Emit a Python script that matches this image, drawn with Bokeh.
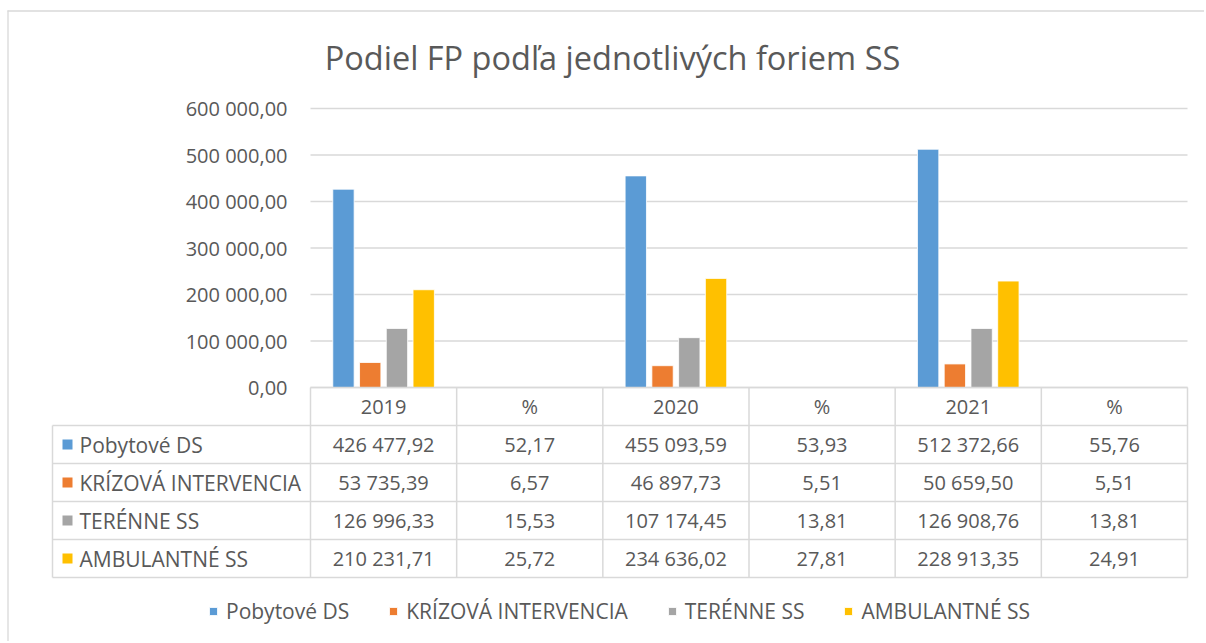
from bokeh.plotting import figure
from bokeh.models import Range1d, Legend, LegendItem, ColumnDataSource
from bokeh.core.properties import value
from bokeh.embed import file_html
from bokeh.resources import INLINE

# ---------------- data ----------------
categories = ["2019", "%", "2020", "%", "2021", "%"]
series_names = ["Pobytové DS", "KRÍZOVÁ INTERVENCIA", "TERÉNNE SS", "AMBULANTNÉ SS"]
pobytove_ds = [426477.92, 52.17, 455093.59, 53.93, 512372.66, 55.76]
krizova_intervencia = [53735.39, 6.57, 46897.73, 5.51, 50659.50, 5.51]
terenne_ss = [126996.33, 15.53, 107174.45, 13.81, 126908.76, 13.81]
ambulantne_ss = [210231.71, 25.72, 234636.02, 27.81, 228913.35, 24.91]
y_ticks = [0, 100000, 200000, 300000, 400000, 500000, 600000]
y_tick_labels = ["0,00", "100 000,00", "200 000,00", "300 000,00",
                 "400 000,00", "500 000,00", "600 000,00"]
title_text = "Podiel FP podľa jednotlivých foriem SS"

series_values = [pobytove_ds, krizova_intervencia, terenne_ss, ambulantne_ss]
colors = ["#5B9BD5", "#ED7D31", "#A5A5A5", "#FFC000"]

FONT = value("Open Sans")
TXT = "#595959"
GRID = "#D9D9D9"


def fmt(v):
    return f"{v:,.2f}".replace(",", " ").replace(".", ",")


W, H = 1204, 641
# layout (figure pixels)
x0_px = 310                 # left of plot area
x1_px = 1187                # right of plot area
col_px = (x1_px - x0_px) / 6.0
zero_px = 387               # y of value 0 (from top)
top_px = 108                # y of 600 000 (from top)
vscale = (zero_px - top_px) / 600000.0

p = figure(width=W, height=H, output_backend="svg", toolbar_location=None,
           x_range=Range1d(-x0_px / col_px, (W - x0_px) / col_px),
           y_range=Range1d(-(H - zero_px) / vscale, 600000 + top_px / vscale),
           min_border=0, x_axis_location=None, y_axis_location=None)
p.grid.visible = False
p.outline_line_color = None
p.background_fill_color = "white"
p.border_fill_color = "white"
p.extra_x_ranges = {"px": Range1d(0, W)}
p.extra_y_ranges = {"px": Range1d(H, 0)}

# chart border
p.segment(x0=[7.5, 7], y0=[10, 10.5], x1=[7.5, W], y1=[H, 10.5], line_color=GRID,
          line_width=1.3, x_range_name="px", y_range_name="px")

# title
p.text(x=[612], y=[57], text=[title_text], x_range_name="px", y_range_name="px",
       text_font=FONT, text_font_size="32.5px", text_color=TXT,
       text_align="center", text_baseline="middle")

# gridlines
p.segment(x0=0, x1=6, y0=y_ticks, y1=y_ticks, line_color=GRID, line_width=1.3)

# y tick labels
p.text(x=[287] * len(y_ticks), y=y_ticks, text=y_tick_labels, x_range_name="px",
       text_font=FONT, text_font_size="20px", text_color=TXT,
       text_align="right", text_baseline="middle")

# bars
pitch = 0.183
bar_w = 0.146
renderers = []
for j, (vals, c) in enumerate(zip(series_values, colors)):
    off = (j - 1.5) * pitch
    src = ColumnDataSource(dict(x=[i + 0.5 + off for i in range(len(categories))], top=vals))
    r = p.vbar(x="x", top="top", bottom=0, width=bar_w, source=src,
               fill_color=c, line_color="white", line_width=0.8)
    renderers.append(r)

# data table
row_h = 38
label_left = -(x0_px - 52) / col_px
row_lines = [zero_px + k * row_h for k in range(len(series_names) + 2)]
table_bottom = row_lines[-1]
hx0 = [0] + [label_left] * (len(row_lines) - 1)
p.segment(x0=hx0, x1=6, y0=row_lines, y1=row_lines, line_color=GRID,
          line_width=1.5, y_range_name="px")
vx = [label_left] + list(range(len(categories) + 1))
vy0 = [row_lines[1]] + [zero_px] * (len(categories) + 1)
p.segment(x0=vx, x1=vx, y0=vy0, y1=table_bottom, line_color=GRID,
          line_width=1.5, y_range_name="px")

p.text(x=[i + 0.5 for i in range(len(categories))], y=[zero_px + row_h / 2] * len(categories),
       text=categories, y_range_name="px", text_font=FONT, text_font_size="20px",
       text_color=TXT, text_align="center", text_baseline="middle")

for j, (name, vals, c) in enumerate(zip(series_names, series_values, colors)):
    yc = zero_px + row_h * (j + 1) + row_h / 2
    p.text(x=[i + 0.5 for i in range(len(vals))], y=[yc] * len(vals),
           text=[fmt(v) for v in vals], y_range_name="px", text_font=FONT,
           text_font_size="20px", text_color=TXT, text_align="center",
           text_baseline="middle")
    p.rect(x=[67], y=[yc], width=10, height=10, fill_color=c, line_color=None,
           x_range_name="px", y_range_name="px")
    p.text(x=[79], y=[yc], text=[name], x_range_name="px", y_range_name="px",
           text_font=FONT, text_font_size="21px", text_color=TXT,
           text_align="left", text_baseline="middle")

# legend
legend = Legend(items=[LegendItem(label=n, renderers=[r]) for n, r in zip(series_names, renderers)],
                orientation="horizontal", location=(208, 16), glyph_width=10, glyph_height=10,
                spacing=39, label_standoff=8, padding=0, margin=0,
                border_line_color=None, background_fill_alpha=0,
                label_text_font="Open Sans", label_text_font_size="21px",
                label_text_color=TXT)
p.add_layout(legend)

open("out.html", "w").write(file_html(p, INLINE))
